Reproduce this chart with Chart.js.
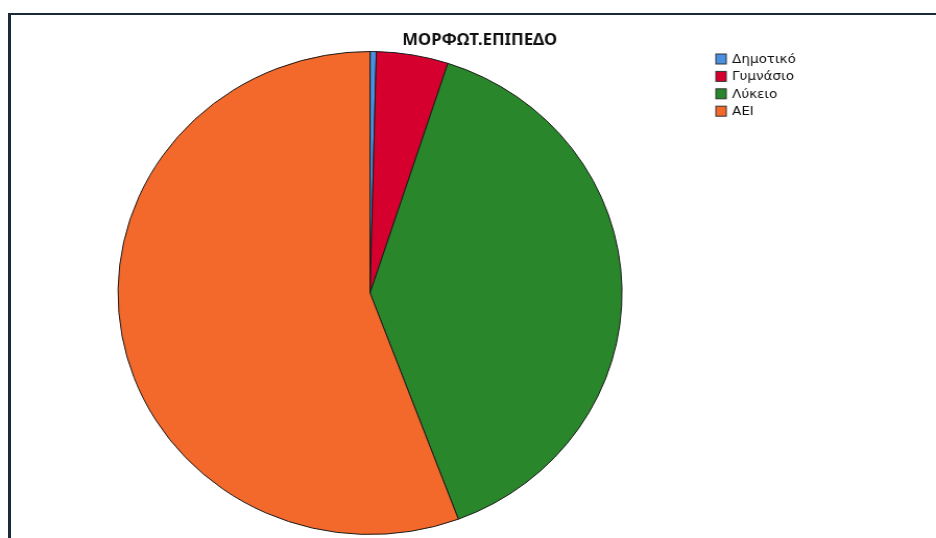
<!DOCTYPE html>
<html>
<head>
<meta charset="utf-8">
<script src="https://cdn.jsdelivr.net/npm/chart.js@4"></script>
<style>
    html, body { margin: 0; padding: 0; background: #fff; }
    .frame { position: absolute; left: 8px; top: 13px; width: 928px; height: 525px;
             border-top: 2px solid #1b2a38; border-left: 3px solid #1b2a38; box-sizing: border-box; }
    #pie { position: absolute; left: 0; top: 0; }
</style>
</head>
<body>
<div class="frame"></div>
<canvas id="pie" width="897" height="538" style="width:936px;height:538px"></canvas>
<script>
const chartTitle = 'ΜΟΡΦΩΤ.ΕΠΙΠΕΔΟ';
const levels = ['Δημοτικό', 'Γυμνάσιο', 'Λύκειο', 'ΑΕΙ'];
const shares = [0.4, 4.6, 39.3, 55.7];
const sliceColors = ['#4a8fe0', '#d6002f', '#2a862a', '#f2692b'];

// title and box legend drawn at fixed spots on the canvas
const titleLegend = {
    id: 'titleLegend',
    afterDraw(chart) {
        const ctx = chart.ctx;
        ctx.save();
        ctx.fillStyle = '#111';
        ctx.font = 'bold 16px "Noto Sans"';
        ctx.textAlign = 'center';
        ctx.textBaseline = 'middle';
        ctx.fillText(chartTitle, 459.7, 40);

        ctx.font = '13px "DejaVu Sans"';
        ctx.textAlign = 'left';
        levels.forEach((name, i) => {
            const y = 59 + i * 17.4;
            ctx.fillStyle = sliceColors[i];
            ctx.fillRect(686, y - 5, 10, 10);
            ctx.strokeStyle = '#333';
            ctx.lineWidth = 1;
            ctx.strokeRect(686, y - 5, 10, 10);
            ctx.fillStyle = '#111';
            ctx.fillText(name, 701.5, y + 0.5);
        });
        ctx.restore();
    }
};

new Chart(document.getElementById('pie'), {
    type: 'pie',
    data: {
        labels: levels,
        datasets: [{
            data: shares,
            backgroundColor: sliceColors,
            borderColor: '#1a1a1a',
            borderWidth: 1
        }]
    },
    options: {
        responsive: false,
        animation: false,
        layout: { padding: { top: 51, bottom: 3, left: 112.6, right: 300.4 } },
        plugins: {
            legend: { display: false },
            title: { display: false },
            tooltip: { enabled: false }
        }
    },
    plugins: [titleLegend]
});
</script>
</body>
</html>
